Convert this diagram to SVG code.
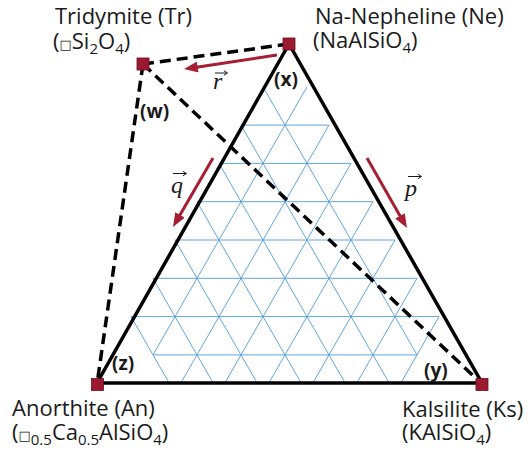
<svg xmlns="http://www.w3.org/2000/svg" width="528" height="450" viewBox="0 0 528 450">
<defs>
<style>
.lbl{font-family:"Open Sans","Liberation Sans",sans-serif;font-size:22px;fill:#1a1a1a}
.sub{font-size:15px}
.box{font-family:"DejaVu Sans",sans-serif;font-size:13px}
.tag{font-family:"Open Sans","Liberation Sans",sans-serif;font-size:19px;font-weight:bold;fill:#1a1a1a}
.vec{font-family:"Liberation Serif","Times New Roman",serif;font-style:italic;font-size:24px;fill:#1a1a1a}
.acc{stroke:#1a1a1a;stroke-width:1;fill:none}
.grid{stroke:#62a6da;stroke-width:1;fill:none}
.solid{stroke:#000;stroke-width:3.5;fill:none;stroke-linejoin:miter}
.dash{stroke:#000;stroke-width:3.5;fill:none;stroke-dasharray:11 6}
.arr{stroke:#a61e32;stroke-width:3;fill:none}
.pt{fill:#9c1a30;stroke:#6a0e1c;stroke-width:0.8}
</style>
<marker id="ah" markerUnits="userSpaceOnUse" markerWidth="14" markerHeight="11" refX="3" refY="5.5" orient="auto">
<path d="M0,0 L14,5.5 L0,11 z" fill="#a61e32"/>
</marker>
<clipPath id="gclip"><rect x="0" y="0" width="528" height="383"/></clipPath>
</defs>
<g id="grid" clip-path="url(#gclip)">
<path class="grid" d="M241,125.1 L329,125.1 M219,163.4 L351,163.4 M197,201.7 L373,201.7 M175,240 L395,240 M153,278.3 L417,278.3 M131,316.6 L439,316.6 M153,354.9 L417,354.9
M307,86.8 L153,354.9 M329,125.1 L175,393.2 M351,163.4 L219,393.2 M373,201.7 L263,393.2 M395,240 L307,393.2 M417,278.3 L351,393.2 M439,316.6 L395,393.2
M263,86.8 L417,354.9 M241,125.1 L395,393.2 M219,163.4 L351,393.2 M197,201.7 L307,393.2 M175,240 L263,393.2 M153,278.3 L219,393.2 M131,316.6 L175,393.2"/>
</g>
<g id="connectors">
<polygon class="solid" points="289,44 97,383 482,383"/>
<line class="dash" x1="143" y1="64" x2="289" y2="44"/>
<line class="dash" x1="143" y1="64" x2="97" y2="384"/>
<line class="dash" x1="143" y1="64" x2="482" y2="384"/>
</g>
<g id="vectors">
<line class="arr" x1="277" y1="55" x2="194.9" y2="67.4" marker-end="url(#ah)"/>
<line class="arr" x1="213" y1="158" x2="178.5" y2="217.5" marker-end="url(#ah)"/>
<line class="arr" x1="367" y1="158" x2="401.5" y2="218.5" marker-end="url(#ah)"/>
<text class="vec" x="213" y="89">r</text>
<path class="acc" d="M215,73 H227 M224,70.8 L227.5,73 L224,75.2"/>
<text class="vec" x="171" y="193">q</text>
<path class="acc" d="M173,173.5 H186 M183,171.3 L186.5,173.5 L183,175.7"/>
<text class="vec" x="405" y="196">p</text>
<path class="acc" d="M408,176.5 H421 M418,174.3 L421.5,176.5 L418,178.7"/>
</g>
<g id="tags">
<text class="tag" x="274" y="86">(x)</text>
<text class="tag" x="140" y="118">(w)</text>
<text class="tag" x="112" y="370">(z)</text>
<text class="tag" x="424" y="377">(y)</text>
</g>
<g id="node-Tr">
<rect class="pt" x="137" y="58" width="12" height="12"/>
<text class="lbl" x="55" y="23.5">Tridymite (Tr)</text>
<text class="lbl" x="53" y="48.5">(<tspan class="box">□</tspan>Si<tspan class="sub" dy="5">2</tspan><tspan dy="-5">O</tspan><tspan class="sub" dy="5">4</tspan><tspan dy="-5">)</tspan></text>
</g>
<g id="node-Ne">
<rect class="pt" x="283" y="38" width="12" height="12"/>
<text class="lbl" x="315" y="23.5">Na-Nepheline (Ne)</text>
<text class="lbl" x="313" y="48">(NaAlSiO<tspan class="sub" dy="5">4</tspan><tspan dy="-5">)</tspan></text>
</g>
<g id="node-An">
<rect class="pt" x="91.5" y="378.5" width="12" height="12"/>
<text class="lbl" x="12" y="416">Anorthite (An)</text>
<text class="lbl" x="12" y="440">(<tspan class="box">□</tspan><tspan class="sub" dy="5">0.5</tspan><tspan dy="-5">Ca</tspan><tspan class="sub" dy="5">0.5</tspan><tspan dy="-5">AlSiO</tspan><tspan class="sub" dy="5">4</tspan><tspan dy="-5">)</tspan></text>
</g>
<g id="node-Ks">
<rect class="pt" x="476" y="378.5" width="12" height="12"/>
<text class="lbl" x="402" y="417">Kalsilite (Ks)</text>
<text class="lbl" x="402" y="440">(KAlSiO<tspan class="sub" dy="5">4</tspan><tspan dy="-5">)</tspan></text>
</g>
</svg>
